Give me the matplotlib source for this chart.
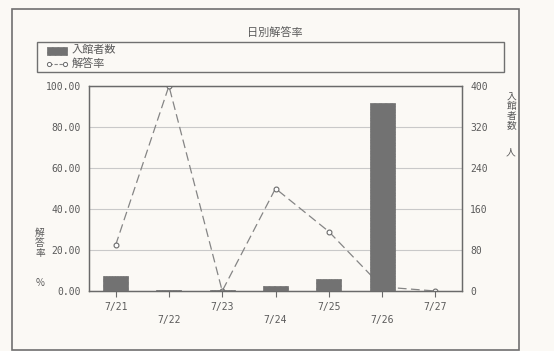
import matplotlib
matplotlib.use("Agg")
import matplotlib.pyplot as plt
from matplotlib.patches import Rectangle
import numpy as np

plt.rcParams['font.family'] = ['Noto Sans CJK JP', 'DejaVu Sans']
plt.rcParams['hatch.color'] = '#8e8e8e'
plt.rcParams['hatch.linewidth'] = 0.5

# Data
dates = ['7/21', '7/22', '7/23', '7/24', '7/25', '7/26', '7/27']
visitors = [30, 1, 1, 9, 24, 367, 0]          # 入館者数 (人)
answer_rate = [22.4, 100.0, 0.0, 50.0, 29.0, 2.0, 0.0]  # 解答率 (%)
left_ticks = [0, 20, 40, 60, 80, 100]
right_ticks = [0, 80, 160, 240, 320, 400]

bg = '#fbf9f5'
ink = '#5a5a5a'
bar_c = '#727272'
mono = 'DejaVu Sans Mono'

fig = plt.figure(figsize=(5.54, 3.51), dpi=100, facecolor=bg)

# Outer frame
fig.add_artist(Rectangle((12 / 554, 1 - 350 / 351), (519 - 12) / 554, (350 - 9) / 351,
                         transform=fig.transFigure, fill=False, edgecolor='#707070', lw=1.2))

ax = fig.add_axes([89 / 554, 1 - 291 / 351, (462 - 89) / 554, (291 - 86) / 351])
ax.set_facecolor(bg)
ax2 = ax.twinx()

x = np.arange(len(dates))

# Bars on the right axis (visitors), drawn above the rate line
ax2.bar(x, visitors, width=0.47, color=bar_c, edgecolor=bar_c, hatch='xxxxxx', lw=0.5, zorder=3)
ax2.set_ylim(0, 400)
ax2.set_yticks(right_ticks)
ax2.set_yticklabels([str(t) for t in right_ticks], family=mono, fontsize=7, color=ink)

# Rate line on the left axis
ax.set_zorder(ax2.get_zorder() - 1)
ax2.patch.set_visible(False)
ax.plot(x, answer_rate, ls=(0, (7, 3.5)), color='#858585', lw=0.9,
        marker='o', ms=3.5, mfc='white', mec='#6a6a6a', mew=0.8, zorder=3)

ax.set_xlim(-0.5, 6.5)
ax.set_ylim(0, 100)
ax.set_yticks(left_ticks)
ax.set_yticklabels([f'{t:.2f}' for t in left_ticks], family=mono, fontsize=7, color=ink)
ax.yaxis.grid(True, color='#c9c9c9', lw=0.8)
ax.set_axisbelow(True)

ax.set_xticks(x)
ax.set_xticklabels([])
for i, d in enumerate(dates):
    dy = -11.5 if i % 2 == 0 else -21
    ax.annotate(d, (i, 0), xytext=(0, dy), textcoords='offset points',
                ha='center', va='center', fontsize=7, family=mono, color=ink)

for a in (ax, ax2):
    for s in a.spines.values():
        s.set_color('#6a6a6a')
        s.set_linewidth(0.9)
    a.tick_params(length=0, pad=6)
ax.tick_params(axis='x', length=4, color='#6a6a6a', direction='out')

# Title
fig.text(275 / 554, 1 - 33 / 351, '日別解答率', ha='center', va='center', fontsize=8, color=ink)

# Legend box
fig.add_artist(Rectangle((37 / 554, 1 - 72 / 351), (504 - 37) / 554, 30 / 351,
                         transform=fig.transFigure, fill=False, edgecolor='#707070', lw=1.0))
fig.add_artist(Rectangle((47 / 554, 1 - 55 / 351), 20 / 554, 8 / 351, transform=fig.transFigure,
                         facecolor=bar_c, edgecolor=bar_c, hatch='xxxxxx', lw=0.5))
fig.text(72 / 554, 1 - 50 / 351, '入館者数', ha='left', va='center', fontsize=8, color=ink)
fig.add_artist(plt.Line2D([49 / 554, 65 / 554], [1 - 64 / 351, 1 - 64 / 351], transform=fig.transFigure,
                          ls=(0, (3, 1.5)), color='#858585', lw=0.8, marker='o', ms=3,
                          mfc='white', mec='#6a6a6a', mew=0.7))
fig.text(72 / 554, 1 - 64 / 351, '解答率', ha='left', va='center', fontsize=8, color=ink)

# Axis labels (stacked vertical characters)
fig.text(40 / 554, 1 - 243 / 351, '解\n答\n率', ha='center', va='center', fontsize=7,
         color=ink, linespacing=0.95)
fig.text(40 / 554, 1 - 283 / 351, '%', ha='center', va='center', fontsize=7, color=ink)
fig.text(512 / 554, 1 - 111 / 351, '入\n館\n者\n数', ha='center', va='center', fontsize=7,
         color=ink, linespacing=0.95)
fig.text(510 / 554, 1 - 152 / 351, '人', ha='center', va='center', fontsize=7, color=ink)

fig.savefig('out.png', dpi=100, facecolor=bg)
